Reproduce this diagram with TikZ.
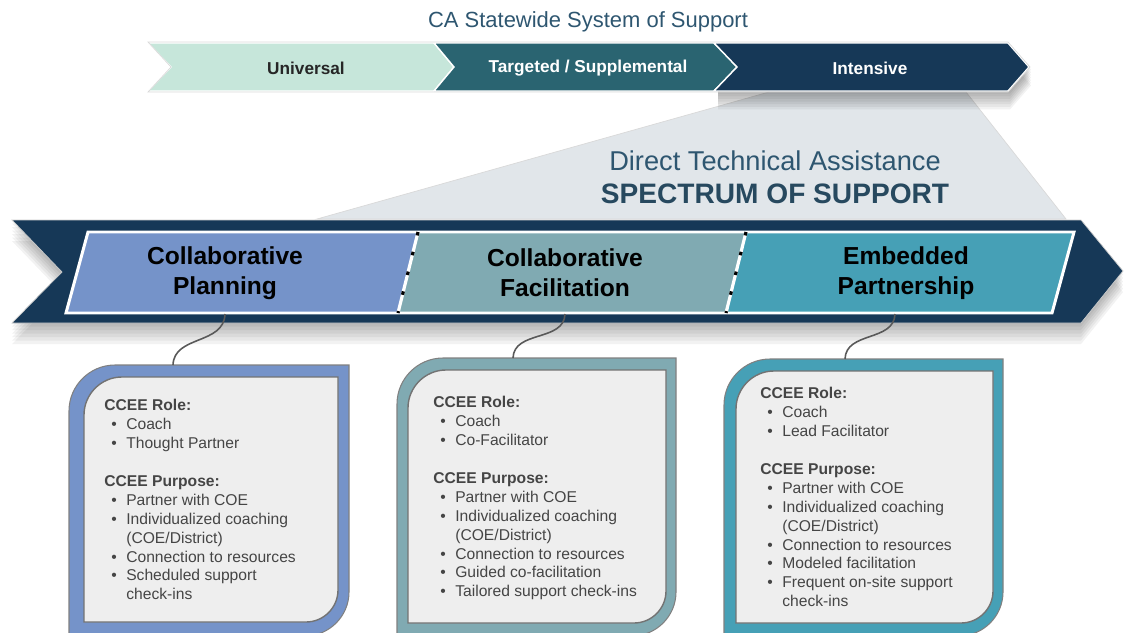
\documentclass[tikz,border=0pt]{standalone}
\usepackage{fontspec}
\setmainfont{Liberation Sans}
\usetikzlibrary{positioning}

\definecolor{navy}{HTML}{163857}
\definecolor{mint}{HTML}{C6E6DA}
\definecolor{deepteal}{HTML}{2A6471}
\definecolor{planblue}{HTML}{7593C9}
\definecolor{facilteal}{HTML}{80AAB2}
\definecolor{partnerteal}{HTML}{46A0B6}
\definecolor{fog}{HTML}{E1E6EA}
\definecolor{slate}{HTML}{2E5670}
\definecolor{boxgray}{HTML}{EEEEEE}
\definecolor{ink}{HTML}{454545}

% leaf shaped box: x1, y1, x2, y2, top-left radius, bottom-right radius, style
\newcommand{\leaf}[7]{%
  \filldraw[#7] (#1,#4) -- (#1,#2+#5)
    .. controls (#1,#2+0.45*#5) and (#1+0.45*#5,#2) .. (#1+#5,#2)
    -- (#3,#2) -- (#3,#4-#6)
    .. controls (#3,#4-0.45*#6) and (#3-0.45*#6,#4) .. (#3-#6,#4) -- cycle;}

\begin{document}
\begin{tikzpicture}[x=0.02cm, y=-0.02cm,
    tier/.style ={font=\fontsize{9.8}{11}\selectfont\bfseries},
    stage/.style ={font=\fontsize{14}{17}\selectfont\bfseries, align=center},
    roles/.style ={anchor=north west, align=left, text=ink, inner sep=0pt,
                   font=\fontsize{8.9}{10.77}\selectfont},
    frame/.style ={draw=black!50, line width=0.6pt},
    inner/.style ={fill=boxgray, draw=black!55, line width=0.8pt},
    link/.style ={draw=black!65, line width=0.9pt},
    divider/.style ={line width=1.8pt}]
   \useasboundingbox (0,0) rectangle (1125,632);
   \clip (0,0) rectangle (1125,632);

   % statewide system of support
   \node[text=slate, font=\fontsize{12.5}{15}\selectfont] (title) at (588,22) {CA Statewide System of Support};

   \filldraw[fill=fog, draw=black!15] (769,92) -- (966,92) -- (1066,219) -- (317,219) -- cycle;
   \foreach \s in {1.5,3,...,10.5}
      \fill[black, opacity=0.05, yshift=-\s] (718,43) -- (1010,43) -- (1031,67) -- (1010,91) -- (718,91) -- cycle;

   \filldraw[fill=mint, draw=white, line width=0.8pt] (148,43) -- (434,43) -- (454,67) -- (434,91) -- (148,91) -- (171,67) -- cycle;
   \filldraw[fill=deepteal, draw=white, line width=0.8pt] (434,43) -- (714,43) -- (737,67) -- (714,91) -- (434,91) -- (454,67) -- cycle;
   \filldraw[fill=navy, draw=white, line width=0.8pt] (714,43) -- (1008,43) -- (1029,67) -- (1008,91) -- (714,91) -- (737,67) -- cycle;
   \draw[black!15] (148,42) -- (1008,42) -- (1030,67) -- (1008,92) -- (148,92) -- (171,67) -- cycle;

   \node[tier, text=black!85] (universal) at (306,68) {Universal};
   \node[tier, text=white] (targeted) at (588,68) {Targeted / Supplemental};
   \node[tier, text=white] (intensive) at (870,68) {Intensive};

   \node[text=slate, font=\fontsize{15.5}{18}\selectfont] (dta) at (775,161) {Direct Technical Assistance};
   \node[text=slate!85!black, font=\fontsize{16}{19}\selectfont\bfseries, below=0pt of dta] (sos) {SPECTRUM OF SUPPORT};

   % spectrum banner
   \foreach \s in {2,4,...,12}
      \fill[black, opacity=0.05, yshift=-\s] (12,220) -- (1081,220) -- (1123,271) -- (1081,323) -- (12,323) -- (62,272) -- cycle;
   \filldraw[fill=navy, draw=black!20] (12,220) -- (1081,220) -- (1123,271) -- (1081,323) -- (12,323) -- (62,272) -- cycle;

   \fill[planblue] (88,232) -- (418,232) -- (398,313) -- (66,313) -- cycle;
   \fill[facilteal] (418,232) -- (746,232) -- (726,313) -- (398,313) -- cycle;
   \fill[partnerteal] (746,232) -- (1074,232) -- (1052,313) -- (726,313) -- cycle;
   \draw[white, line width=1.7pt] (88,232) -- (1074,232) -- (1052,313) -- (66,313) -- cycle;
   \foreach \a/\b in {418/398, 746/726}{
      \draw[divider, white] (\a,232) -- (\b,313);
      \draw[divider, black, dash pattern=on 2pt off 9.6pt] (\a,232) -- (\b,313);
   }

   \node[stage] (plan) at (225,273) {Collaborative\\Planning};
   \node[stage] (facil) at (565,273) {Collaborative\\Facilitation};
   \node[stage] (partner) at (906,273) {Embedded\\Partnership};

   % boxes
   \leaf{69}{365}{349}{636}{46}{44}{fill=planblue, frame}
   \leaf{84}{377}{338}{622}{38}{32}{inner}
   \leaf{397}{358}{676}{636}{46}{44}{fill=facilteal, frame}
   \leaf{408}{370}{666}{623}{38}{32}{inner}
   \leaf{724}{359}{1003}{636}{46}{44}{fill=partnerteal, frame}
   \leaf{736}{371}{993}{623}{38}{32}{inner}

   \coordinate (plan-foot) at (225,314);
   \coordinate (facil-foot) at (565,314);
   \coordinate (partner-foot) at (895,314);
   \coordinate (planbox) at (173,365);
   \coordinate (facilbox) at (513,358);
   \coordinate (partnerbox) at (845,359);

   \draw[link] (plan-foot) .. controls (224,345) and (174,335) .. (planbox);
   \draw[link] (facil-foot) .. controls (564,342) and (514,330) .. (facilbox);
   \draw[link] (partner-foot) .. controls (894,342) and (846,331) .. (partnerbox);

   \node[roles] (planroles) at (104,399) {\textbf{CCEE Role:}\\
      \hspace*{4pt}\makebox[8.5pt][l]{\textbullet}Coach\\
      \hspace*{4pt}\makebox[8.5pt][l]{\textbullet}Thought Partner\\[10.77pt]
      \textbf{CCEE Purpose:}\\
      \hspace*{4pt}\makebox[8.5pt][l]{\textbullet}Partner with COE\\
      \hspace*{4pt}\makebox[8.5pt][l]{\textbullet}Individualized coaching\\
      \hspace*{12.5pt}(COE/District)\\
      \hspace*{4pt}\makebox[8.5pt][l]{\textbullet}Connection to resources\\
      \hspace*{4pt}\makebox[8.5pt][l]{\textbullet}Scheduled support\\
      \hspace*{12.5pt}check-ins};
   \node[roles] (facilroles) at (433,396) {\textbf{CCEE Role:}\\
      \hspace*{4pt}\makebox[8.5pt][l]{\textbullet}Coach\\
      \hspace*{4pt}\makebox[8.5pt][l]{\textbullet}Co-Facilitator\\[10.77pt]
      \textbf{CCEE Purpose:}\\
      \hspace*{4pt}\makebox[8.5pt][l]{\textbullet}Partner with COE\\
      \hspace*{4pt}\makebox[8.5pt][l]{\textbullet}Individualized coaching\\
      \hspace*{12.5pt}(COE/District)\\
      \hspace*{4pt}\makebox[8.5pt][l]{\textbullet}Connection to resources\\
      \hspace*{4pt}\makebox[8.5pt][l]{\textbullet}Guided co-facilitation\\
      \hspace*{4pt}\makebox[8.5pt][l]{\textbullet}Tailored support check-ins};
   \node[roles] (partnerroles) at (760,387) {\textbf{CCEE Role:}\\
      \hspace*{4pt}\makebox[8.5pt][l]{\textbullet}Coach\\
      \hspace*{4pt}\makebox[8.5pt][l]{\textbullet}Lead Facilitator\\[10.77pt]
      \textbf{CCEE Purpose:}\\
      \hspace*{4pt}\makebox[8.5pt][l]{\textbullet}Partner with COE\\
      \hspace*{4pt}\makebox[8.5pt][l]{\textbullet}Individualized coaching\\
      \hspace*{12.5pt}(COE/District)\\
      \hspace*{4pt}\makebox[8.5pt][l]{\textbullet}Connection to resources\\
      \hspace*{4pt}\makebox[8.5pt][l]{\textbullet}Modeled facilitation\\
      \hspace*{4pt}\makebox[8.5pt][l]{\textbullet}Frequent on-site support\\
      \hspace*{12.5pt}check-ins};
 \end{tikzpicture}
\end{document}
